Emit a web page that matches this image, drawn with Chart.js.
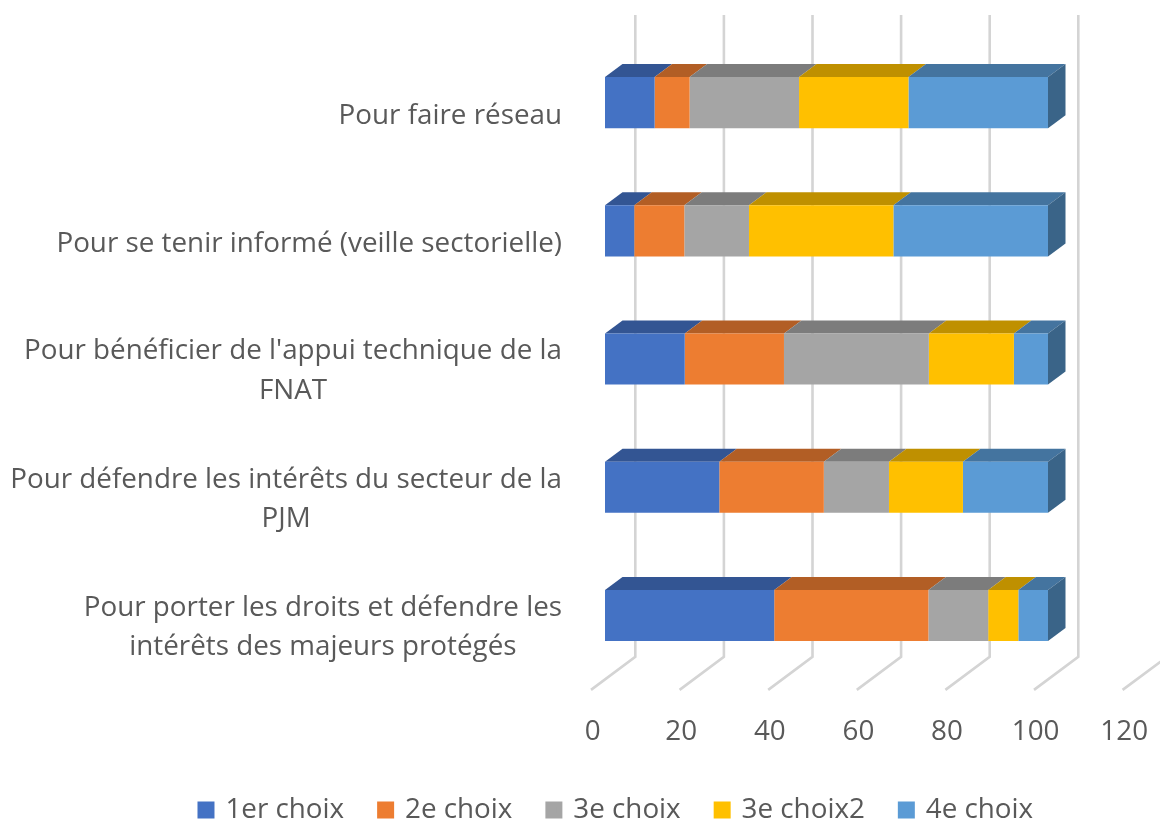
<!DOCTYPE html>
<html><head><meta charset="utf-8">
<style>html,body{margin:0;padding:0;background:#fff}canvas{display:block}</style>
<script src="https://cdn.jsdelivr.net/npm/chart.js@4"></script>
</head><body>
<canvas id="c" width="1160" height="820"></canvas>
<script>
const categories = [
  ["Pour faire réseau"],
  ["Pour se tenir informé (veille sectorielle)"],
  ["Pour bénéficier de l'appui technique de la","FNAT"],
  ["Pour défendre les intérêts du secteur de la","PJM"],
  ["Pour porter les droits et défendre les","intérêts des majeurs protégés"]
];
const choix1 = [11.2, 6.6, 18.0, 25.8, 38.2];
const choix2 = [7.9, 11.3, 22.4, 23.6, 34.8];
const choix3 = [24.7, 14.6, 32.7, 14.7, 13.5];
const choix3b = [24.7, 32.6, 19.2, 16.7, 6.8];
const choix4 = [31.5, 34.9, 7.7, 19.2, 6.7];
const seriesNames = ["1er choix","2e choix","3e choix","3e choix2","4e choix"];
const frontColors = ["#4472c4","#ed7d31","#a5a5a5","#ffc000","#5b9bd5"];
const topColors = ["#335593","#b25e25","#7c7c7c","#bf9000","#44749f"];
const sideColor = "#3a6488";
const FONT = '"Open Sans", sans-serif';
const TEXT = "#595959";
const FS = 27.8;

const threeD = {
  id:'threeD',
  beforeDatasetsDraw(chart){
    const {ctx,chartArea:a,scales:{x}} = chart;
    ctx.save();
    ctx.strokeStyle="#d4d4d4"; ctx.lineWidth=2.6; ctx.lineJoin='miter';
    x.ticks.forEach(t=>{
      const p=x.getPixelForValue(t.value);
      ctx.beginPath();
      ctx.moveTo(p+30.3,a.top-23.5);
      ctx.lineTo(p+30.3,a.bottom-22.8);
      ctx.lineTo(p-14,a.bottom+10.2);
      ctx.stroke();
    });
    const dx=17.5, dy=13;
    chart.data.datasets.forEach((d,i)=>{
      chart.getDatasetMeta(i).data.forEach(b=>{
        const top=b.y-b.height/2;
        ctx.fillStyle=topColors[i];
        ctx.beginPath();
        ctx.moveTo(b.base,top);ctx.lineTo(b.base+dx,top-dy);
        ctx.lineTo(b.x+dx,top-dy);ctx.lineTo(b.x,top);ctx.closePath();ctx.fill();
        if(i===chart.data.datasets.length-1){
          const bot=b.y+b.height/2;
          ctx.fillStyle=sideColor;
          ctx.beginPath();
          ctx.moveTo(b.x,top);ctx.lineTo(b.x+dx,top-dy);
          ctx.lineTo(b.x+dx,bot-dy);ctx.lineTo(b.x,bot);ctx.closePath();ctx.fill();
        }
      });
    });
    ctx.restore();
  },
  afterDraw(chart){
    const {ctx,scales:{y}} = chart;
    ctx.save();
    ctx.font=FS+'px '+FONT; ctx.fillStyle=TEXT;
    ctx.textAlign='center'; ctx.textBaseline='middle';
    const right=562, lh=39.5;
    categories.forEach((lines,i)=>{
      const w=Math.max(...lines.map(l=>ctx.measureText(l).width));
      const cy=y.getPixelForValue(i)+(lines.length===1?13.2:12);
      lines.forEach((l,k)=>{
        ctx.fillText(l,right-w/2,cy+(k-(lines.length-1)/2)*lh);
      });
    });
    ctx.restore();
  }
};

new Chart(document.getElementById('c'),{
  type:'bar',
  data:{labels:categories,datasets:[choix1,choix2,choix3,choix3b,choix4].map((v,i)=>({
    label:seriesNames[i],data:v,backgroundColor:frontColors[i],borderWidth:0,
    barPercentage:0.398,categoryPercentage:1
  }))},
  plugins:[threeD],
  options:{
    indexAxis:'y',responsive:false,animation:false,
    layout:{padding:{left:97,right:23.4,top:38.5,bottom:-14}},
    scales:{
      x:{stacked:true,min:0,max:120,
        afterFit(s){s.height=80.5;s.paddingLeft=0;s.paddingRight=0;},
        grid:{display:false},border:{display:false},
        ticks:{stepSize:20,autoSkip:false,maxRotation:0,labelOffset:-12.4,padding:27.5,
          color:TEXT,font:{family:FONT,size:FS}}},
      y:{stacked:true,
        afterFit(s){s.width=508;s.paddingTop=0;s.paddingBottom=0;},
        grid:{display:false},border:{display:false},ticks:{display:false}}
    },
    plugins:{
      tooltip:{enabled:false},
      legend:{position:'bottom',labels:{
        boxWidth:11,boxHeight:11,padding:36,color:TEXT,font:{family:FONT,size:FS},
        generateLabels(chart){
          return Chart.defaults.plugins.legend.labels.generateLabels(chart).map(l=>
            Object.assign(l,{lineWidth:6,strokeStyle:l.fillStyle}));
        }
      }}
    }
  }
});
</script>
</body></html>
